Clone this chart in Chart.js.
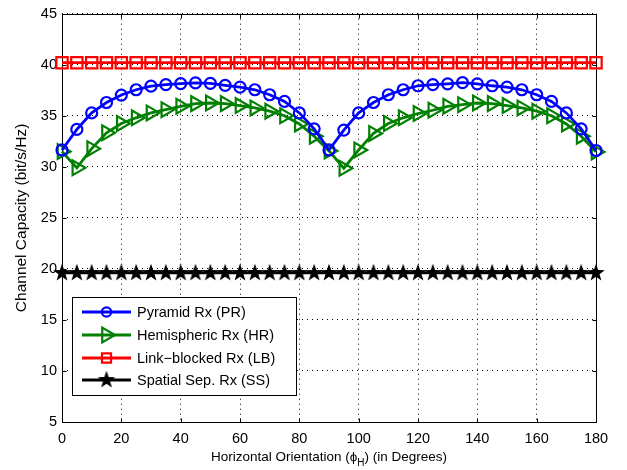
<!DOCTYPE html>
<html><head><meta charset="utf-8">
<script src="https://cdn.jsdelivr.net/npm/chart.js@4"></script>
<style>html,body{margin:0;padding:0;background:#fff}</style>
</head><body>
<canvas id="c" width="627" height="470"></canvas>
<script>
const angles = [0,5,10,15,20,25,30,35,40,45,50,55,60,65,70,75,80,85,90,95,100,105,110,115,120,125,130,135,140,145,150,155,160,165,170,175,180];
const pyramidRx = [31.65,33.66,35.28,36.3,37.03,37.55,37.9,38.05,38.15,38.22,38.18,37.98,37.8,37.55,37.06,36.41,35.28,33.72,31.65,
                   33.6,35.28,36.3,37.06,37.55,37.94,38.05,38.13,38.24,38.13,37.94,37.8,37.55,37.06,36.41,35.28,33.72,31.6];
const hemisphericRx = [31.5,29.9,31.78,33.34,34.24,34.8,35.28,35.6,35.93,36.19,36.25,36.19,36.0,35.77,35.45,35.0,34.2,33.0,31.56,
                       29.86,31.65,33.27,34.24,34.8,35.22,35.54,35.93,36.09,36.25,36.19,36.0,35.77,35.45,35.0,34.2,33.0,31.46];
const linkBlockedRx = [40.2,40.2,40.2,40.2,40.2,40.2,40.2,40.2,40.2,40.2,40.2,40.2,40.2,40.2,40.2,40.2,40.2,40.2,40.2,
                       40.2,40.2,40.2,40.2,40.2,40.2,40.2,40.2,40.2,40.2,40.2,40.2,40.2,40.2,40.2,40.2,40.2,40.2];
const spatialSepRx = [19.6,19.6,19.6,19.6,19.6,19.6,19.6,19.6,19.6,19.6,19.6,19.6,19.6,19.6,19.6,19.6,19.6,19.6,19.6,
                      19.6,19.6,19.6,19.6,19.6,19.6,19.6,19.6,19.6,19.6,19.6,19.6,19.6,19.6,19.6,19.6,19.6,19.6];
const seriesNames = ["Pyramid Rx (PR)", "Hemispheric Rx (HR)", "Link\u2212blocked Rx (LB)", "Spatial Sep. Rx (SS)"];
const xTickValues = [0,20,40,60,80,100,120,140,160,180];
const yTickValues = [5,10,15,20,25,30,35,40,45];
const xTitleParts = ["Horizontal Orientation (", "\u03D5", "H", ") (in Degrees)"];
const yTitle = "Channel Capacity (bit/s/Hz)";

const FONT = "'Liberation Sans', Arial, sans-serif";

function makeStar(size, outer, inner) {
  const cv = document.createElement('canvas');
  cv.width = size; cv.height = size;
  const g = cv.getContext('2d');
  const c = size / 2;
  g.beginPath();
  for (let i = 0; i < 10; i++) {
    const r = i % 2 === 0 ? outer : inner;
    const a = -Math.PI / 2 + i * Math.PI / 5;
    const px = c + r * Math.cos(a), py = c + r * Math.sin(a);
    if (i === 0) g.moveTo(px, py); else g.lineTo(px, py);
  }
  g.closePath();
  g.fillStyle = '#000';
  g.fill();
  return cv;
}
const starImg = makeStar(20, 9.2, 3.7);

function pts(vals) { return angles.map((a, i) => ({x: a, y: vals[i]})); }

const datasets = [
  {label: seriesNames[0], data: pts(pyramidRx), borderColor: '#0000ff', backgroundColor: 'rgba(0,0,0,0)',
   borderWidth: 2.8, pointStyle: 'circle', pointRadius: 5.5, pointBorderWidth: 2.2, pointRotation: 0},
  {label: seriesNames[1], data: pts(hemisphericRx), borderColor: '#008000', backgroundColor: 'rgba(0,0,0,0)',
   borderWidth: 2.8, pointStyle: 'triangle', pointRadius: 8.5, pointBorderWidth: 2.2, pointRotation: 90},
  {label: seriesNames[2], data: pts(linkBlockedRx), borderColor: '#ff0000', backgroundColor: 'rgba(0,0,0,0)',
   borderWidth: 2.8, pointStyle: 'rect', pointRadius: 8.0, pointBorderWidth: 2.2, pointRotation: 0},
  {label: seriesNames[3], data: pts(spatialSepRx), borderColor: '#000000', backgroundColor: '#000000',
   borderWidth: 2.8, pointStyle: starImg, pointRadius: 9, pointBorderWidth: 0, pointRotation: 0}
];
datasets.forEach(d => { d.clip = false; d.tension = 0; d.fill = false; d.pointHoverRadius = d.pointRadius; });

const frame = {
  id: 'frame',
  beforeDatasetsDraw(chart) {
    const {ctx, chartArea: a, scales} = chart;
    ctx.save();
    ctx.strokeStyle = '#000';
    ctx.lineWidth = 1;
    const L = Math.round(a.left) + 0.5, R = Math.round(a.right) + 0.5;
    const T = Math.round(a.top) + 0.5, B = Math.round(a.bottom) + 0.5;
    ctx.strokeRect(L, T, R - L, B - T);
    const tl = 4;
    ctx.beginPath();
    xTickValues.forEach(v => {
      const x = Math.round(scales.x.getPixelForValue(v)) + 0.5;
      ctx.moveTo(x, B); ctx.lineTo(x, B - tl);
      ctx.moveTo(x, T); ctx.lineTo(x, T + tl);
    });
    yTickValues.forEach(v => {
      const y = Math.round(scales.y.getPixelForValue(v)) + 0.5;
      ctx.moveTo(L, y); ctx.lineTo(L + tl, y);
      ctx.moveTo(R, y); ctx.lineTo(R - tl, y);
    });
    ctx.stroke();
    ctx.restore();
  }
};

const extras = {
  id: 'extras',
  afterDraw(chart) {
    const {ctx, chartArea: a} = chart;
    ctx.save();
    ctx.fillStyle = '#000';
    const mainFont = '13.5px ' + FONT;
    const subFont = '10px ' + FONT;
    ctx.textBaseline = 'alphabetic';
    ctx.font = mainFont;
    const w0 = ctx.measureText(xTitleParts[0]).width;
    const w1 = ctx.measureText(xTitleParts[1]).width;
    const w3 = ctx.measureText(xTitleParts[3]).width;
    ctx.font = subFont;
    const w2 = ctx.measureText(xTitleParts[2]).width;
    const total = w0 + w1 + w2 + w3;
    let x = (a.left + a.right) / 2 - total / 2;
    const by = 461;
    ctx.textAlign = 'left';
    ctx.font = mainFont;
    ctx.fillText(xTitleParts[0], x, by); x += w0;
    ctx.fillText(xTitleParts[1], x, by); x += w1;
    ctx.font = subFont;
    ctx.fillText(xTitleParts[2], x, by + 5); x += w2;
    ctx.font = mainFont;
    ctx.fillText(xTitleParts[3], x, by);

    ctx.save();
    ctx.translate(22, (a.top + a.bottom) / 2);
    ctx.rotate(-Math.PI / 2);
    ctx.textAlign = 'center';
    ctx.textBaseline = 'middle';
    ctx.font = '15.5px ' + FONT;
    ctx.fillText(yTitle, 0, 0);
    ctx.restore();

    // legend
    const bx = 72.5, byy = 297.5, bw = 224, bh = 98;
    ctx.fillStyle = '#fff';
    ctx.fillRect(bx, byy, bw, bh);
    ctx.strokeStyle = '#000';
    ctx.lineWidth = 1;
    ctx.strokeRect(bx, byy, bw, bh);
    const rows = [312, 335, 358, 380];
    chart.data.datasets.forEach((d, i) => {
      const y = rows[i];
      ctx.strokeStyle = d.borderColor;
      ctx.lineWidth = d.borderWidth;
      ctx.beginPath();
      ctx.moveTo(82, y); ctx.lineTo(131, y);
      ctx.stroke();
      ctx.fillStyle = d.backgroundColor;
      ctx.strokeStyle = d.borderColor;
      ctx.lineWidth = d.pointBorderWidth;
      Chart.helpers.drawPoint(ctx, {pointStyle: d.pointStyle, radius: d.pointRadius * (i === 2 ? 0.8 : (i === 0 ? 0.85 : 1)), rotation: d.pointRotation, borderWidth: d.pointBorderWidth}, 106.5, y);
      ctx.fillStyle = '#000';
      ctx.font = '14.5px ' + FONT;
      ctx.textAlign = 'left';
      ctx.textBaseline = 'middle';
      ctx.fillText(d.label, 137, y + 1);
    });
    ctx.restore();
  }
};

new Chart(document.getElementById('c'), {
  type: 'line',
  data: {datasets},
  options: {
    responsive: false,
    animation: false,
    devicePixelRatio: 1,
    events: [],
    layout: {padding: {top: 10, right: 31, left: 0, bottom: 0}},
    plugins: {legend: {display: false}, tooltip: {enabled: false}},
    scales: {
      x: {
        type: 'linear', min: 0, max: 180,
        afterBuildTicks(s) { s.ticks = xTickValues.map(v => ({value: v})); },
        afterFit(s) { s.height = 48; },
        ticks: {color: '#000', font: {family: FONT, size: 14.5}, padding: 8, maxRotation: 0, autoSkip: false},
        grid: {color: '#000', lineWidth: 1, drawTicks: false},
        border: {display: false, dash: [1, 4]}
      },
      y: {
        type: 'linear', min: 5, max: 45,
        afterBuildTicks(s) { s.ticks = yTickValues.map(v => ({value: v})); },
        afterFit(s) { s.width = 62; },
        ticks: {color: '#000', font: {family: FONT, size: 14.5}, padding: 5, autoSkip: false},
        grid: {color: '#000', lineWidth: 1, drawTicks: false},
        border: {display: false, dash: [1, 4]}
      }
    }
  },
  plugins: [frame, extras]
});
</script>
</body></html>
